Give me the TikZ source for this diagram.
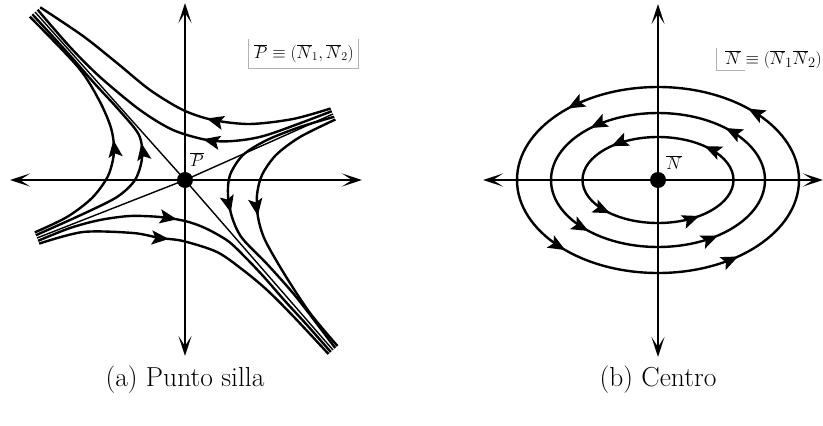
\documentclass[tikz,border=0pt]{standalone}
\usetikzlibrary{arrows.meta,decorations.markings}
\begin{document}
\begin{tikzpicture}[x=1pt,y=-1pt,
  axis/.style={line width=1.7pt,
    {Stealth[length=20pt,width=13pt,inset=10pt]}-{Stealth[length=20pt,width=13pt,inset=10pt]}},
  traj/.style={line width=2.4pt},
  sepline/.style={line width=1.4pt},
  headtip/.tip={Stealth[length=17pt,width=14pt,inset=3.5pt]},
  flowat/.style={postaction={decorate},
    decoration={markings, mark=at position #1 with {\arrow{headtip}}}},
  ellflow/.style={postaction={decorate},
    decoration={markings,
      mark=at position 0.124 with {\arrow{headtip}},
      mark=at position 0.376 with {\arrow{headtip}},
      mark=at position 0.62 with {\arrow{headtip}},
      mark=at position 0.861 with {\arrow{headtip}}}},
  dot/.style={circle, fill=black, inner sep=0pt, minimum size=16pt},
  lbl/.style={font=\fontsize{17.5}{21}\selectfont, inner sep=0pt},
  lblb/.style={font=\fontsize{19}{23}\selectfont, inner sep=0pt},
  captext/.style={font=\fontsize{27.5}{33}\selectfont, inner sep=0pt, anchor=base},
  boxline/.style={draw=black!30, line width=0.6pt}
]
\useasboundingbox (0,0) rectangle (823,426);

% ---------------- left panel: saddle ----------------
\coordinate (O1) at (185,180);
\coordinate (ax1l) at (10,180);  \coordinate (ax1r) at (362,180);
\coordinate (ax1t) at (185,3);   \coordinate (ax1b) at (185,356);
\draw[axis] (ax1l) -- (ax1r);
\draw[axis] (ax1t) -- (ax1b);

% straight separatrices
\coordinate (sUL) at (35,12);  \coordinate (sLR) at (333,350);
\coordinate (uLL) at (37,238); \coordinate (uUR) at (333,114);
\draw[sepline] (sUL) -- (O1) -- (sLR);
\draw[sepline] (uLL) -- (O1) -- (uUR);

% top curves (flow right -> upper left)
\draw[traj, flowat=0.385] plot[smooth] coordinates {(330.6,108.5) (293,119) (250,124) (213,120) (183,110) (150,90) (117,63) (83,36) (40.2,7.3)};
\draw[traj, flowat=0.385] plot[smooth] coordinates {(331.8,111.2) (267,135) (233,141) (207,140) (173,130) (140,110) (100,77) (70,47) (37.6,9.7)};
% left curves (flow lower left -> upper left)
\draw[traj, flowat=0.464] plot[smooth] coordinates {(34.8,232.4) (67,217) (92,198) (108,176) (114,152) (111,128) (99,100) (78,67) (29.8,16.7)};
\draw[traj, flowat=0.474] plot[smooth] coordinates {(35.9,235.2) (83,214) (117,197) (135,180) (142,158) (139,135) (119,110) (95,84) (66,51) (32.4,14.3)};
% right curves (flow upper right -> lower right)
\draw[traj, flowat=0.484] plot[smooth] coordinates {(334.2,116.8) (300,127) (267,140) (243,155) (230,175) (228,195) (232,217) (242,238) (268,265) (297,298) (335.2,348)};
\draw[traj, flowat=0.468] plot[smooth] coordinates {(335.4,119.5) (300,137) (276,155) (262,175) (257,195) (258,217) (265,240) (285,275) (310,313) (337.5,346)};
% bottom curves (flow lower left -> lower right)
\draw[traj, flowat=0.408] plot[smooth] coordinates {(38.1,240.8) (70,228) (100,220) (130,216) (160,217) (185,221) (205,228) (228,241) (246,258) (264,277) (285,301) (307,325) (330.8,352)};
\draw[traj, flowat=0.395] plot[smooth] coordinates {(39.2,243.6) (83,232) (133,233) (160,238) (183,241) (217,252) (243,270) (267,290) (294,317) (328.5,354)};

\node[dot] (P) at (O1) {};
\node[lbl] (Plab) at (197,160) {$\overline{P}$};

\node[lbl, anchor=base] (Pdef) at (304,58) {$\overline{P}\equiv(\overline{N}_1,\overline{N}_2)$};
\draw[boxline] (248,39) -- (248,68) -- (358,68) -- (358,39);

\node[captext] (capa) at (185,386) {(a) Punto silla};

% ---------------- right panel: centre ----------------
\coordinate (O2) at (658,180);
\coordinate (ax2l) at (483,180); \coordinate (ax2r) at (823,180);
\coordinate (ax2t) at (658,4);   \coordinate (ax2b) at (658,357);
\draw[axis] (ax2l) -- (ax2r);
\draw[axis] (ax2t) -- (ax2b);

\draw[traj, ellflow] (O2) ++(141,0) arc[start angle=0, end angle=-360, x radius=141, y radius=93];
\draw[traj, ellflow] (O2) ++(107,0) arc[start angle=0, end angle=-360, x radius=107, y radius=67];
\draw[traj, ellflow] (O2) ++(75.5,0) arc[start angle=0, end angle=-360, x radius=75.5, y radius=43];

\node[dot] (N) at (O2) {};
\node[lblb] (Nlab) at (674,163) {$\overline{N}$};

\node[lblb, anchor=base east] (Ndef) at (822,64) {$\overline{N}\equiv(\overline{N}_1\overline{N}_2)$};
\draw[boxline] (716.7,48) -- (716.7,70) -- (745,70);

\node[captext] (capb) at (658,386) {(b) Centro};
\end{tikzpicture}
\end{document}
